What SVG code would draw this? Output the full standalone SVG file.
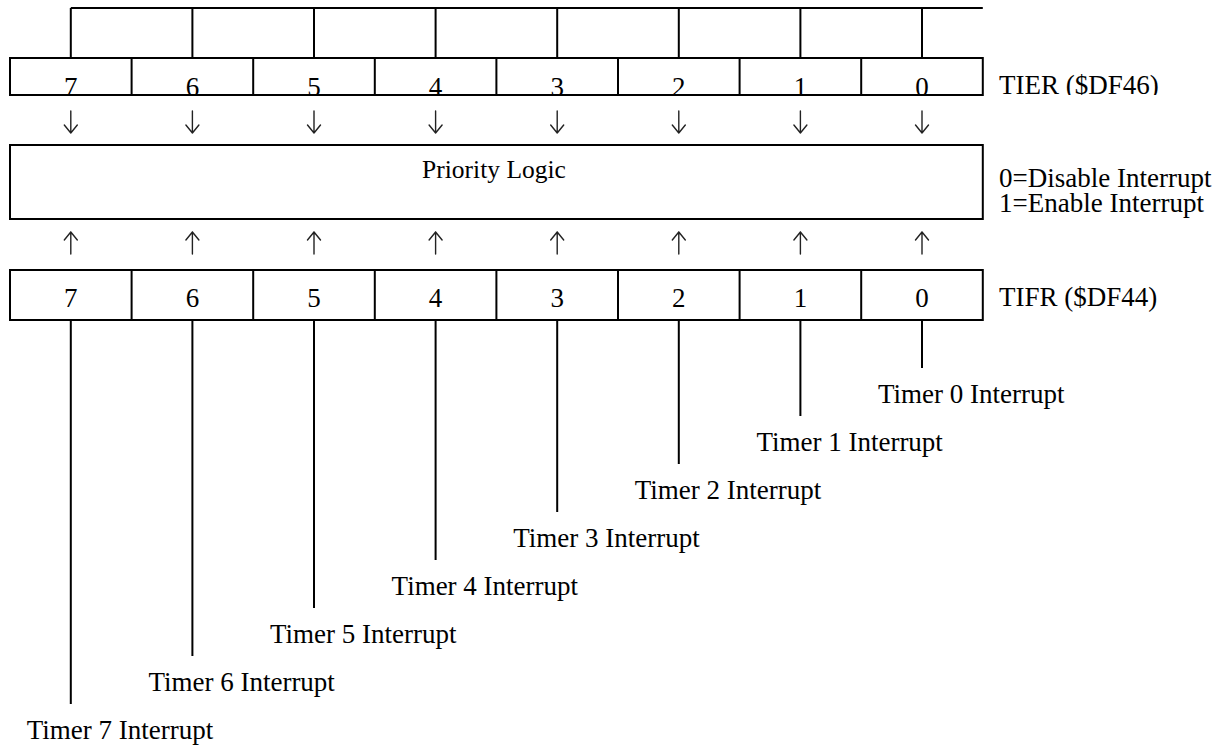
<svg xmlns="http://www.w3.org/2000/svg" width="1230" height="749" viewBox="0 0 1230 749">
<style>
.ln{stroke:#000;stroke-width:2;fill:none}
.bx{stroke:#000;stroke-width:2;fill:#fff}
.ar{stroke:#222;stroke-width:1.4;fill:none;stroke-linecap:round;stroke-linejoin:round}
text{font-family:"Liberation Serif","Times New Roman",serif;font-size:27px;fill:#000}
.c{text-anchor:middle}
</style>
<defs>
<clipPath id="clipTier"><rect x="0" y="0" width="1230" height="95"/></clipPath>
<path id="dn" class="ar" d="M0 -11V11 M-6.5 3L0 11L6.5 3"/>
<path id="up" class="ar" d="M0 11V-11 M-6.5 -3L0 -11L6.5 -3"/>
</defs>
<rect width="1230" height="749" fill="#fff"/>
<g id="top-row">
<path class="ln" d="M70.8 8H982.8 M70.8 8V58 M192.4 8V58 M314 8V58 M435.6 8V58 M557.2 8V58 M678.8 8V58 M800.4 8V58 M922 8V58"/>
</g>
<g id="tier">
<g clip-path="url(#clipTier)">
<text class="c" x="70.8" y="96">7</text>
<text class="c" x="192.4" y="96">6</text>
<text class="c" x="314" y="96">5</text>
<text class="c" x="435.6" y="96">4</text>
<text class="c" x="557.2" y="96">3</text>
<text class="c" x="678.8" y="96">2</text>
<text class="c" x="800.4" y="96">1</text>
<text class="c" x="922" y="96">0</text>
<text x="999" y="94">TIER ($DF46)</text>
</g>
<path class="ln" d="M10 58H982.8V95H10Z M131.6 58V95 M253.2 58V95 M374.8 58V95 M496.4 58V95 M618 58V95 M739.6 58V95 M861.2 58V95"/>
</g>
<g id="priority-logic">
<rect class="bx" x="10" y="145" width="972.8" height="74"/>
<text class="c" x="494" y="178" style="font-size:25.5px">Priority Logic</text>
<text x="999" y="187">0=Disable Interrupt</text>
<text x="999" y="212">1=Enable Interrupt</text>
</g>
<g id="tifr">
<path class="ln" d="M10 270H982.8V320H10Z M131.6 270V320 M253.2 270V320 M374.8 270V320 M496.4 270V320 M618 270V320 M739.6 270V320 M861.2 270V320"/>
<text class="c" x="70.8" y="307">7</text>
<text class="c" x="192.4" y="307">6</text>
<text class="c" x="314" y="307">5</text>
<text class="c" x="435.6" y="307">4</text>
<text class="c" x="557.2" y="307">3</text>
<text class="c" x="678.8" y="307">2</text>
<text class="c" x="800.4" y="307">1</text>
<text class="c" x="922" y="307">0</text>
<text x="999" y="306">TIFR ($DF44)</text>
</g>
<g id="connectors">
<use href="#dn" x="70.8" y="122"/>
<use href="#dn" x="192.4" y="122"/>
<use href="#dn" x="314" y="122"/>
<use href="#dn" x="435.6" y="122"/>
<use href="#dn" x="557.2" y="122"/>
<use href="#dn" x="678.8" y="122"/>
<use href="#dn" x="800.4" y="122"/>
<use href="#dn" x="922" y="122"/>
<use href="#up" x="70.8" y="243"/>
<use href="#up" x="192.4" y="243"/>
<use href="#up" x="314" y="243"/>
<use href="#up" x="435.6" y="243"/>
<use href="#up" x="557.2" y="243"/>
<use href="#up" x="678.8" y="243"/>
<use href="#up" x="800.4" y="243"/>
<use href="#up" x="922" y="243"/>
<path class="ln" d="M922 320V368 M800.4 320V416 M678.8 320V464 M557.2 320V512 M435.6 320V560 M314 320V608 M192.4 320V656 M70.8 320V704"/>
</g>
<g id="interrupt-labels">
<text x="878" y="403">Timer 0 Interrupt</text>
<text x="756.4" y="451">Timer 1 Interrupt</text>
<text x="634.8" y="499">Timer 2 Interrupt</text>
<text x="513.2" y="547">Timer 3 Interrupt</text>
<text x="391.6" y="595">Timer 4 Interrupt</text>
<text x="270" y="643">Timer 5 Interrupt</text>
<text x="148.4" y="691">Timer 6 Interrupt</text>
<text x="26.8" y="739">Timer 7 Interrupt</text>
</g>
</svg>
